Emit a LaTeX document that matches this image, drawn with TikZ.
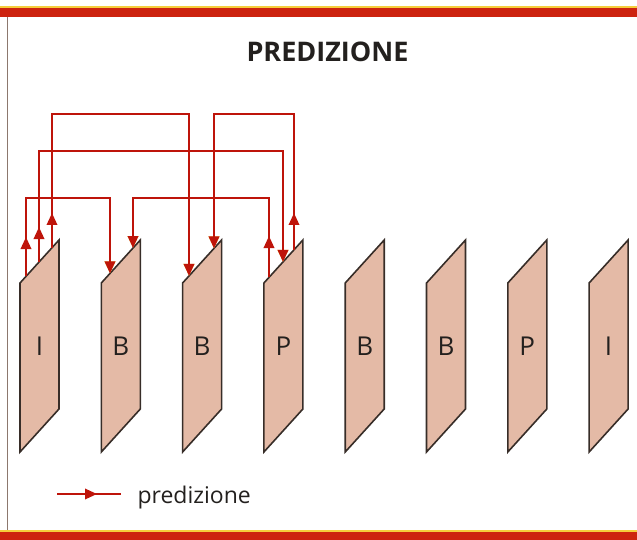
\documentclass[tikz,border=0pt]{standalone}
\usepackage{fontspec}
\setmainfont{Open Sans}
\usetikzlibrary{arrows.meta,decorations.markings}
\definecolor{bandred}{RGB}{205,35,15}
\definecolor{bandyellow}{RGB}{245,205,60}
\definecolor{arrred}{RGB}{190,20,10}
\definecolor{arryellow}{RGB}{240,200,70}
\definecolor{framefill}{RGB}{228,186,166}
\definecolor{frameline}{RGB}{55,45,40}
\definecolor{borderline}{RGB}{140,120,110}
\definecolor{textgray}{RGB}{35,32,30}
\begin{document}
\begin{tikzpicture}[x=1pt,y=-1pt,
  frame/.style={fill=framefill,draw=frameline,line width=1.6pt,line join=miter},
  predline/.style={draw=arrred,line width=1.8pt,preaction={draw=arryellow,line width=2.8pt}},
  pred/.style={predline,-{Triangle[length=12pt,width=10.5pt]}},
  upmark/.style={postaction={decorate,decoration={markings,mark=at position #1 with {\arrow{Triangle[length=12pt,width=10.5pt]}}}}},
  lab/.style={font=\fontsize{26}{26}\selectfont,text=textgray}]
\useasboundingbox (0,0) rectangle (637,540);
% bands
\fill[bandyellow] (0,6) rectangle (637,8);
\fill[bandred] (0,8) rectangle (637,17);
\fill[bandyellow] (0,530) rectangle (637,532);
\fill[bandred] (0,532) rectangle (637,540);
\draw[borderline,line width=0.9pt] (7,17) -- (7,530);
% title
\node[anchor=base,font=\bfseries\fontsize{27}{27}\selectfont,text=textgray] (title) at (327.5,62) {PREDIZIONE};
% frames
\foreach \l [count=\i from 0] in {I,B,B,P,B,B,P,I} {
  \pgfmathsetmacro\L{20+81.3*\i}
  \draw[frame] (\L,283) -- (\L+39,240) -- (\L+39,409) -- (\L,452) -- cycle;
  \node[lab] (f\i) at (\L+19.5,346) {\l};
}
% prediction connectors
\coordinate (s1) at (26,276.4);  \coordinate (e1) at (110,273.4);
\coordinate (s2) at (39,262);    \coordinate (e2) at (283,261.9);
\coordinate (s3) at (52,247.7);  \coordinate (e3) at (189,275.9);
\coordinate (s4) at (269,277.4); \coordinate (e4) at (133,248);
\coordinate (s5) at (294,249.8); \coordinate (e5) at (214,248.4);
\draw[pred,upmark=39.4pt] (s1) -- (s1 |- 0,198) -- (e1 |- 0,198) -- (e1);
\draw[pred,upmark=35pt]   (s2) -- (s2 |- 0,151) -- (e2 |- 0,151) -- (e2);
\draw[pred,upmark=34.7pt] (s3) -- (s3 |- 0,114) -- (e3 |- 0,114) -- (e3);
\draw[pred,upmark=41.4pt] (s4) -- (s4 |- 0,198) -- (e4 |- 0,198) -- (e4);
\draw[pred,upmark=36.8pt] (s5) -- (s5 |- 0,114) -- (e5 |- 0,114) -- (e5);
% legend
\coordinate (l1) at (57,494); \coordinate (l2) at (121,494);
\draw[predline,upmark=40pt] (l1) -- (l2);
\node[anchor=base west,font=\fontsize{23}{23}\selectfont,text=textgray] (leg) at (134,503) {predizione};
\end{tikzpicture}
\end{document}
